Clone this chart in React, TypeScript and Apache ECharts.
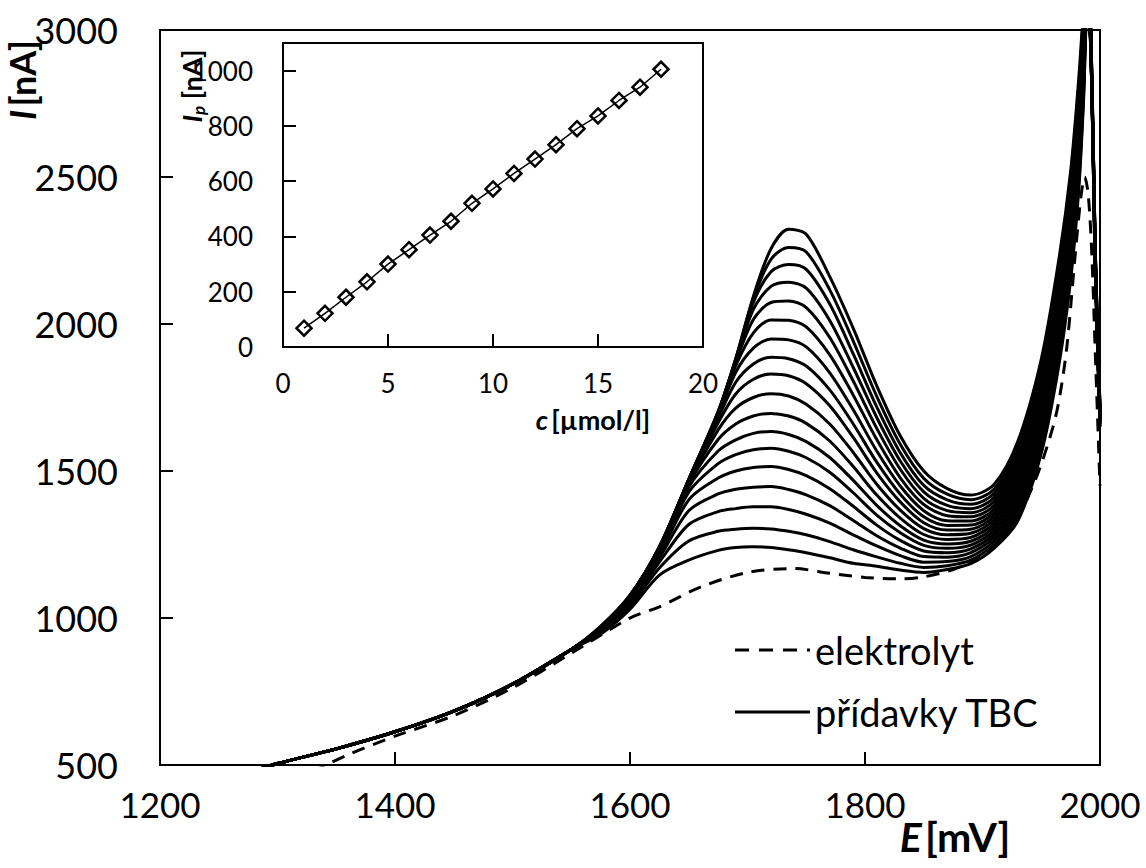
import React, { useEffect, useRef } from 'react';
import * as echarts from 'echarts';

// ---- main voltammograms ----
// common rising part shared by all additions (curves overlap there)
const trunkPotential = [1280, 1300, 1350, 1400, 1450, 1500, 1550];
const trunkCurrent = [480, 505, 555, 613, 683, 775, 893];

// potentials where the 18 addition curves separate
const peakPotential = [1575, 1600, 1625, 1650, 1675, 1690, 1705, 1720, 1735, 1750, 1770, 1790, 1810, 1830, 1850, 1870, 1890, 1910, 1930, 1950, 1965, 1975, 1982, 1986, 1989, 1992, 1996, 2000];

const addition01 = [945, 1030, 1146, 1197, 1230, 1240, 1242, 1240, 1232, 1222, 1205, 1186, 1176, 1163, 1155, 1165, 1185, 1238, 1330, 1560, 1860, 2150, 2460, 2760, 3050, 2950, 2180, 1650];
const addition02 = [949, 1041, 1170, 1262, 1295, 1302, 1305, 1303, 1295, 1283, 1260, 1232, 1208, 1186, 1172, 1178, 1197, 1250, 1346, 1578, 1882, 2170, 2485, 2775, 3060, 2955, 2185, 1652];
const addition03 = [952, 1049, 1190, 1318, 1362, 1372, 1378, 1378, 1369, 1353, 1323, 1283, 1245, 1212, 1190, 1192, 1209, 1262, 1361, 1596, 1898, 2196, 2502, 2798, 3075, 2960, 2188, 1660];
const addition04 = [955, 1055, 1204, 1365, 1422, 1438, 1445, 1447, 1437, 1419, 1382, 1332, 1280, 1238, 1209, 1207, 1222, 1274, 1376, 1614, 1921, 2214, 2528, 2812, 3085, 2968, 2192, 1661];
const addition05 = [957, 1059, 1214, 1402, 1476, 1500, 1512, 1515, 1505, 1484, 1440, 1380, 1316, 1264, 1228, 1222, 1235, 1286, 1391, 1632, 1940, 2238, 2546, 2834, 3098, 2974, 2196, 1667];
const addition06 = [959, 1063, 1221, 1428, 1525, 1556, 1572, 1577, 1567, 1545, 1496, 1426, 1350, 1290, 1247, 1237, 1248, 1298, 1406, 1650, 1958, 2262, 2570, 2850, 3110, 2980, 2200, 1670];
const addition07 = [961, 1066, 1226, 1445, 1568, 1606, 1628, 1634, 1624, 1600, 1546, 1468, 1383, 1314, 1265, 1252, 1261, 1310, 1421, 1668, 1980, 2282, 2590, 2870, 3120, 2986, 2205, 1673];
const addition08 = [962, 1068, 1230, 1455, 1607, 1660, 1687, 1696, 1687, 1662, 1602, 1515, 1418, 1340, 1284, 1267, 1274, 1322, 1437, 1686, 2002, 2304, 2614, 2886, 3135, 2992, 2208, 1678];
const addition09 = [963, 1070, 1233, 1461, 1640, 1714, 1750, 1763, 1755, 1727, 1660, 1563, 1455, 1367, 1304, 1283, 1288, 1334, 1453, 1704, 2020, 2325, 2636, 2904, 3146, 2998, 2212, 1682];
const addition10 = [964, 1071, 1235, 1465, 1664, 1762, 1812, 1830, 1824, 1797, 1722, 1614, 1494, 1395, 1324, 1299, 1302, 1346, 1469, 1722, 2040, 2348, 2658, 2922, 3158, 3004, 2216, 1686];
const addition11 = [965, 1072, 1237, 1467, 1680, 1802, 1864, 1887, 1882, 1857, 1776, 1660, 1530, 1421, 1344, 1315, 1316, 1358, 1485, 1740, 2061, 2370, 2680, 2940, 3170, 3010, 2220, 1690];
const addition12 = [966, 1073, 1238, 1468, 1689, 1836, 1918, 1949, 1946, 1922, 1834, 1708, 1568, 1449, 1365, 1331, 1330, 1370, 1501, 1758, 2080, 2392, 2702, 2958, 3182, 3016, 2224, 1694];
const addition13 = [967, 1074, 1239, 1469, 1694, 1858, 1970, 2014, 2013, 1990, 1895, 1758, 1607, 1477, 1386, 1348, 1344, 1383, 1517, 1776, 2100, 2414, 2724, 2976, 3194, 3022, 2228, 1698];
const addition14 = [968, 1075, 1240, 1470, 1697, 1870, 2015, 2073, 2078, 2056, 1954, 1806, 1645, 1506, 1407, 1365, 1358, 1396, 1533, 1794, 2120, 2436, 2746, 2994, 3206, 3028, 2232, 1702];
const addition15 = [969, 1076, 1241, 1470, 1699, 1876, 2050, 2128, 2142, 2122, 2012, 1852, 1682, 1534, 1429, 1383, 1372, 1410, 1550, 1812, 2142, 2458, 2768, 3012, 3218, 3034, 2236, 1706];
const addition16 = [970, 1077, 1241, 1471, 1700, 1879, 2073, 2178, 2202, 2186, 2068, 1898, 1718, 1562, 1451, 1402, 1387, 1424, 1566, 1832, 2165, 2480, 2790, 3030, 3230, 3040, 2240, 1710];
const addition17 = [971, 1077, 1242, 1471, 1701, 1881, 2086, 2220, 2260, 2245, 2116, 1942, 1754, 1591, 1475, 1421, 1402, 1439, 1583, 1855, 2192, 2500, 2815, 3055, 3240, 3045, 2245, 1715];
const addition18 = [972, 1078, 1243, 1472, 1702, 1882, 2094, 2256, 2322, 2305, 2161, 1985, 1790, 1620, 1500, 1440, 1418, 1455, 1600, 1880, 2220, 2520, 2840, 3080, 3250, 3050, 2250, 1720];

const additionCurves = [
  addition01, addition02, addition03, addition04, addition05, addition06,
  addition07, addition08, addition09, addition10, addition11, addition12,
  addition13, addition14, addition15, addition16, addition17, addition18,
];

// supporting electrolyte (dashed)
const electrolytePotential = [1330, 1360, 1400, 1450, 1500, 1550, 1600, 1625, 1660, 1700, 1740, 1770, 1800, 1830, 1850, 1875, 1900, 1925, 1945, 1960, 1966, 1972, 1979, 1984, 1987, 1990, 1993, 1996, 2000];
const electrolyteCurrent = [478, 535, 598, 668, 762, 880, 1000, 1038, 1105, 1155, 1168, 1152, 1138, 1133, 1140, 1165, 1212, 1310, 1470, 1650, 1760, 1930, 2240, 2440, 2500, 2440, 2240, 1900, 1450];

// ---- inset: calibration ----
const concentration = [1, 2, 3, 4, 5, 6, 7, 8, 9, 10, 11, 12, 13, 14, 15, 16, 17, 18];
const peakCurrent = [68, 122, 180, 236, 300, 352, 405, 455, 520, 572, 628, 680, 732, 790, 836, 892, 940, 1005];

const legendNames = ['elektrolyt', 'přídavky TBC'];

const FONT = 'Lato';

export default function App() {
  const ref = useRef<HTMLDivElement>(null);

  useEffect(() => {
    if (!ref.current) return;
    const chart = echarts.init(ref.current, null, { renderer: 'svg' });

    const additionSeries = additionCurves.map((curve) => ({
      name: legendNames[1],
      type: 'line',
      xAxisIndex: 0,
      yAxisIndex: 0,
      showSymbol: false,
      symbol: 'none',
      smooth: 0.3,
      lineStyle: { color: '#000', width: 3 },
      itemStyle: { color: '#000' },
      data: [
        ...trunkPotential.map((e, i) => [e, trunkCurrent[i]]),
        ...peakPotential.map((e, i) => [e, curve[i]]),
      ],
      z: 3,
    }));

    const axisCommon = {
      type: 'value',
      axisLine: { show: true, lineStyle: { color: '#000', width: 2 } },
      axisTick: { show: true, inside: true, length: 13, lineStyle: { color: '#000', width: 2 } },
      splitLine: { show: false },
    };
    const plain = (v: number) => String(v);

    chart.setOption({
      animation: false,
      backgroundColor: '#fff',
      grid: [
        { left: 160, top: 30, width: 940, height: 735, show: true, borderColor: '#000', borderWidth: 2 },
        { left: 283, top: 43, width: 420, height: 304, show: true, borderColor: '#000', borderWidth: 2, backgroundColor: '#fff', z: 10 },
      ],
      xAxis: [
        {
          ...axisCommon,
          gridIndex: 0,
          min: 1200,
          max: 2000,
          interval: 200,
          axisLabel: { color: '#000', fontSize: 35, fontFamily: FONT, margin: 21, formatter: plain },
        },
        {
          ...axisCommon,
          gridIndex: 1,
          min: 0,
          max: 20,
          interval: 5,
          z: 10,
          axisLabel: { color: '#000', fontSize: 26, fontFamily: FONT, margin: 23, formatter: plain },
        },
      ],
      yAxis: [
        {
          ...axisCommon,
          gridIndex: 0,
          min: 500,
          max: 3000,
          interval: 500,
          axisLabel: { color: '#000', fontSize: 36, fontFamily: FONT, margin: 42, formatter: plain },
        },
        {
          ...axisCommon,
          gridIndex: 1,
          min: 0,
          max: 1100,
          interval: 200,
          z: 10,
          axisLabel: { color: '#000', fontSize: 26, fontFamily: FONT, margin: 30, formatter: plain, showMaxLabel: false },
        },
      ],
      graphic: [
        // legend
        {
          type: 'line',
          shape: { x1: 735, y1: 650, x2: 810, y2: 650 },
          style: { stroke: '#000', lineWidth: 3, lineDash: [14, 10] },
        },
        {
          type: 'text',
          x: 815,
          y: 650,
          style: { text: legendNames[0], fontFamily: FONT, fontSize: 38, fill: '#000', align: 'left', verticalAlign: 'middle' },
        },
        {
          type: 'line',
          shape: { x1: 735, y1: 712, x2: 810, y2: 712 },
          style: { stroke: '#000', lineWidth: 3 },
        },
        {
          type: 'text',
          x: 815,
          y: 712,
          style: { text: legendNames[1], fontFamily: FONT, fontSize: 38, fill: '#000', align: 'left', verticalAlign: 'middle' },
        },
        // axis titles
        {
          type: 'text',
          x: 22,
          y: 80,
          rotation: Math.PI / 2,
          style: {
            text: '{i|I} {b|[nA]}',
            align: 'center',
            verticalAlign: 'middle',
            rich: {
              i: { fontFamily: FONT, fontSize: 36, fontWeight: 'bold', fontStyle: 'italic', fill: '#000' },
              b: { fontFamily: FONT, fontSize: 36, fontWeight: 'bold', fill: '#000' },
            },
          },
        },
        {
          type: 'text',
          x: 955,
          y: 836,
          style: {
            text: '{i|E} {b|[mV]}',
            align: 'center',
            verticalAlign: 'middle',
            rich: {
              i: { fontFamily: FONT, fontSize: 41, fontWeight: 'bold', fontStyle: 'italic', fill: '#000' },
              b: { fontFamily: FONT, fontSize: 41, fontWeight: 'bold', fill: '#000' },
            },
          },
        },
        {
          type: 'text',
          x: 593,
          y: 419,
          z: 20,
          style: {
            text: '{i|c} {b|[µmol/l]}',
            align: 'center',
            verticalAlign: 'middle',
            rich: {
              i: { fontFamily: FONT, fontSize: 27, fontWeight: 'bold', fontStyle: 'italic', fill: '#000' },
              b: { fontFamily: FONT, fontSize: 27, fontWeight: 'bold', fill: '#000' },
            },
          },
        },
        {
          type: 'text',
          x: 191,
          y: 86,
          z: 20,
          rotation: Math.PI / 2,
          style: {
            text: '{i|I}{s|p}{b| [nA]}',
            align: 'center',
            verticalAlign: 'middle',
            rich: {
              i: { fontFamily: FONT, fontSize: 27, fontWeight: 'bold', fontStyle: 'italic', fill: '#000', lineHeight: 32, verticalAlign: 'middle' },
              s: { fontFamily: FONT, fontSize: 17, fontWeight: 'bold', fontStyle: 'italic', fill: '#000', lineHeight: 32, verticalAlign: 'bottom' },
              b: { fontFamily: FONT, fontSize: 27, fontWeight: 'bold', fill: '#000', lineHeight: 32, verticalAlign: 'middle' },
            },
          },
        },
      ],
      series: [
        {
          name: legendNames[0],
          type: 'line',
          xAxisIndex: 0,
          yAxisIndex: 0,
          showSymbol: false,
          symbol: 'none',
          smooth: 0.3,
          lineStyle: { color: '#000', width: 3, type: [13, 9] },
          itemStyle: { color: '#000' },
          data: electrolytePotential.map((e, i) => [e, electrolyteCurrent[i]]),
          z: 2,
        },
        ...additionSeries,
        {
          name: 'Ip',
          type: 'line',
          xAxisIndex: 1,
          yAxisIndex: 1,
          symbol: 'diamond',
          symbolSize: 15,
          showSymbol: true,
          lineStyle: { color: '#000', width: 1.5 },
          itemStyle: { color: 'rgba(255,255,255,0)', borderColor: '#000', borderWidth: 2.5 },
          data: concentration.map((c, i) => [c, peakCurrent[i]]),
          z: 12,
        },
      ],
    });

    return () => chart.dispose();
  }, []);

  return (
    <div
      ref={ref}
      style={{ position: 'absolute', left: 0, top: 0, width: 1146, height: 868 }}
    />
  );
}
